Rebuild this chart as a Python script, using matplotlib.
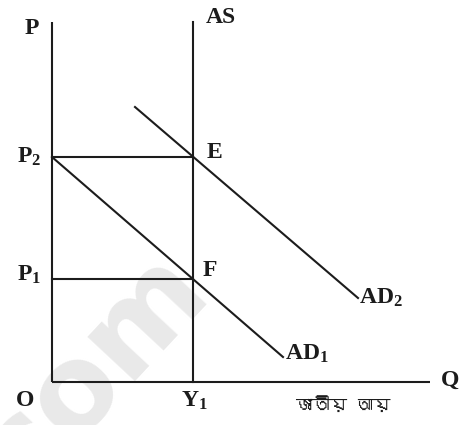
import matplotlib
matplotlib.use("Agg")
import matplotlib.pyplot as plt
from matplotlib import font_manager
from matplotlib.ft2font import FT2Font

# --- diagram values (origin O at 0,0) ---
axis_top = 360          # height of the P axis
axis_right = 378        # length of the Q axis
Y1 = 141                # full-employment output (vertical AS)
P1 = 103                # initial price level
P2 = 225                # higher price level
AD1_x = [0, 231]
AD1_y = [225, 25]
AD2_x = [83, 306]
AD2_y = [275, 84]

x_label_bn = "জাতীয় আয়"


def find_bengali_font():
    for f in font_manager.fontManager.ttflist:
        try:
            ft = FT2Font(f.fname)
            if ft.get_char_index(0x099C) and ft.get_char_index(0x09DF):
                return f.name
        except Exception:
            continue
    return None


bn_font = find_bengali_font()
bn_family = [bn_font, "DejaVu Sans"] if bn_font else ["DejaVu Sans"]

plt.rcParams["mathtext.fontset"] = "custom"
plt.rcParams["mathtext.rm"] = "Liberation Serif:bold"
plt.rcParams["font.family"] = ["Liberation Serif"]

fig = plt.figure(figsize=(4.71, 4.25), dpi=100)
ax = fig.add_axes([0, 0, 1, 1])
ax.set_xlim(-52, 419)
ax.set_ylim(-43, 382)
ax.axis("off")

ink = "#1c1c1c"
lw = 1.5

# faint watermark
ax.text(-62, -142, ".com", rotation=47, rotation_mode="anchor",
        fontsize=86, fontweight="bold", family="DejaVu Sans",
        color="#e9e9e9", ha="left", va="baseline", zorder=0)

# axes
ax.plot([0, 0], [0, axis_top], color=ink, lw=lw, solid_capstyle="butt")
ax.plot([0, axis_right], [0, 0], color=ink, lw=lw, solid_capstyle="butt")
# aggregate supply
ax.plot([Y1, Y1], [0, axis_top], color=ink, lw=lw)
# price guide lines
ax.plot([0, Y1], [P2, P2], color=ink, lw=lw)
ax.plot([0, Y1], [P1, P1], color=ink, lw=lw)
# aggregate demand curves
ax.plot(AD1_x, AD1_y, color=ink, lw=lw)
ax.plot(AD2_x, AD2_y, color=ink, lw=lw)

fs = 17
tkw = dict(color=ink, fontsize=fs, fontweight="bold")
ax.text(-20, 354, "P", ha="center", va="center", **tkw)
ax.text(Y1 + 13, 365, "AS", ha="left", va="center", **tkw)
ax.text(-35, P2, r"$\mathrm{P_2}$", ha="left", va="center", **tkw)
ax.text(-35, P1 + 4, r"$\mathrm{P_1}$", ha="left", va="center", **tkw)
ax.text(Y1 + 14, P2 + 5, "E", ha="left", va="center", **tkw)
ax.text(Y1 + 10, P1 + 9, "F", ha="left", va="center", **tkw)
ax.text(AD2_x[1] + 1, AD2_y[1], r"$\mathrm{AD_2}$", ha="left", va="center", **tkw)
ax.text(AD1_x[1] + 2, AD1_y[1] + 3, r"$\mathrm{AD_1}$", ha="left", va="center", **tkw)
ax.text(-27, -19, "O", ha="center", va="center", **tkw)
ax.text(Y1 + 1, -19, r"$\mathrm{Y_1}$", ha="center", va="center", **tkw)
ax.text(axis_right + 20, 2, "Q", ha="center", va="center", **tkw)
ax.text(291, -22, x_label_bn, ha="center", va="center", family=bn_family,
        fontsize=12.5, fontweight="bold", color=ink)

fig.savefig("out.png", dpi=100, facecolor="white")
